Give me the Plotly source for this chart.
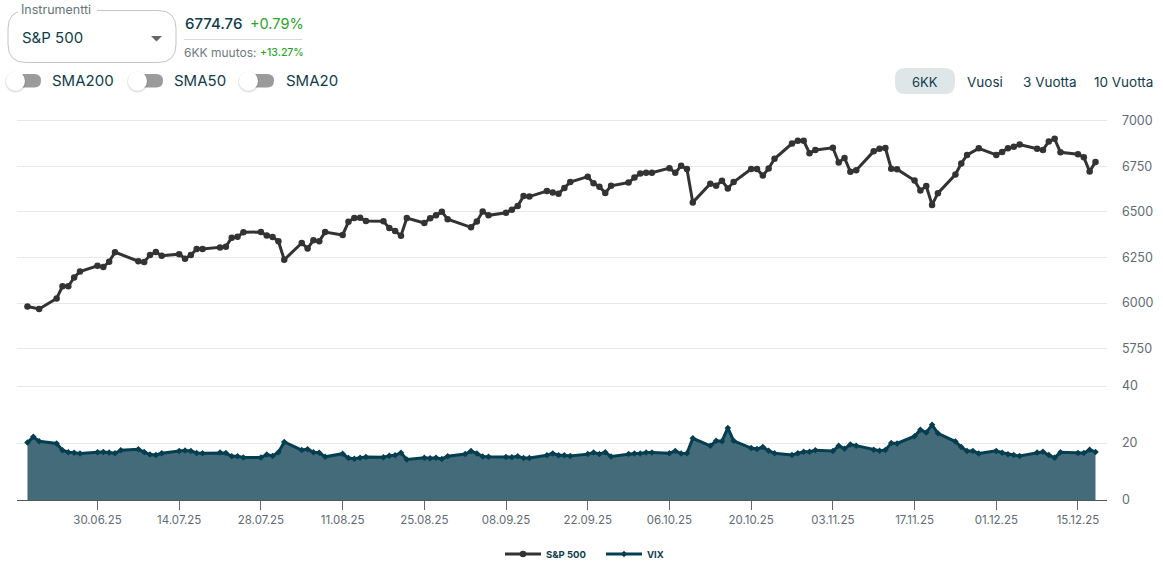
import plotly.graph_objects as go

W, H = 1163, 571

dates = """2025-06-18 2025-06-20 2025-06-23 2025-06-24 2025-06-25 2025-06-26 2025-06-27 2025-06-30 2025-07-01 2025-07-02 2025-07-03
2025-07-07 2025-07-08 2025-07-09 2025-07-10 2025-07-11 2025-07-14 2025-07-15 2025-07-16 2025-07-17 2025-07-18
2025-07-21 2025-07-22 2025-07-23 2025-07-24 2025-07-25 2025-07-28 2025-07-29 2025-07-30 2025-07-31 2025-08-01
2025-08-04 2025-08-05 2025-08-06 2025-08-07 2025-08-08 2025-08-11 2025-08-12 2025-08-13 2025-08-14 2025-08-15
2025-08-18 2025-08-19 2025-08-20 2025-08-21 2025-08-22 2025-08-25 2025-08-26 2025-08-27 2025-08-28 2025-08-29
2025-09-02 2025-09-03 2025-09-04 2025-09-05 2025-09-08 2025-09-09 2025-09-10 2025-09-11 2025-09-12
2025-09-15 2025-09-16 2025-09-17 2025-09-18 2025-09-19 2025-09-22 2025-09-23 2025-09-24 2025-09-25 2025-09-26
2025-09-29 2025-09-30 2025-10-01 2025-10-02 2025-10-03 2025-10-06 2025-10-07 2025-10-08 2025-10-09 2025-10-10
2025-10-13 2025-10-14 2025-10-15 2025-10-16 2025-10-17 2025-10-20 2025-10-21 2025-10-22 2025-10-23 2025-10-24
2025-10-27 2025-10-28 2025-10-29 2025-10-30 2025-10-31 2025-11-03 2025-11-04 2025-11-05 2025-11-06 2025-11-07
2025-11-10 2025-11-11 2025-11-12 2025-11-13 2025-11-14 2025-11-17 2025-11-18 2025-11-19 2025-11-20 2025-11-21
2025-11-24 2025-11-25 2025-11-26 2025-11-28 2025-12-01 2025-12-02 2025-12-03 2025-12-04 2025-12-05
2025-12-08 2025-12-09 2025-12-10 2025-12-11 2025-12-12 2025-12-15 2025-12-16 2025-12-17 2025-12-18""".split()

sp500 = [5980.87, 5967.84, 6025.17, 6092.18, 6092.16, 6141.02, 6173.07, 6204.95, 6198.01, 6227.42, 6279.35,
         6229.98, 6225.52, 6263.26, 6280.46, 6259.75, 6268.56, 6243.76, 6263.70, 6297.36, 6296.79,
         6305.60, 6309.62, 6358.91, 6363.35, 6388.64, 6389.77, 6370.86, 6362.90, 6339.39, 6238.01,
         6329.94, 6299.19, 6345.06, 6340.00, 6389.45, 6373.45, 6445.76, 6466.58, 6468.54, 6449.80,
         6449.15, 6411.37, 6395.78, 6370.17, 6466.91, 6439.32, 6465.94, 6481.40, 6501.86, 6460.26,
         6415.54, 6448.26, 6502.08, 6481.50, 6495.15, 6512.61, 6532.04, 6587.47, 6584.29,
         6615.28, 6606.76, 6600.35, 6631.96, 6664.36, 6693.75, 6656.92, 6637.97, 6604.72, 6643.70,
         6661.21, 6688.46, 6711.20, 6715.35, 6715.79, 6740.28, 6714.59, 6753.72, 6735.11, 6552.51,
         6654.72, 6644.31, 6671.06, 6629.07, 6664.01, 6735.13, 6735.35, 6699.40, 6738.44, 6791.69,
         6875.16, 6890.89, 6890.59, 6822.34, 6840.20, 6851.97, 6771.55, 6796.29, 6720.32, 6728.80,
         6832.43, 6846.61, 6850.92, 6737.49, 6734.11, 6672.41, 6617.32, 6642.16, 6538.76, 6602.99,
         6705.12, 6765.88, 6812.61, 6849.09, 6812.63, 6829.37, 6849.72, 6857.12, 6870.40,
         6846.51, 6840.51, 6886.68, 6901.00, 6827.41, 6816.51, 6800.26, 6721.43, 6774.76]

vix_dates = """2025-06-18 2025-06-19 2025-06-20 2025-06-23 2025-06-24 2025-06-25 2025-06-26 2025-06-27 2025-06-30 2025-07-01 2025-07-02 2025-07-03 2025-07-04
2025-07-07 2025-07-08 2025-07-09 2025-07-10 2025-07-11 2025-07-14 2025-07-15 2025-07-16 2025-07-17 2025-07-18
2025-07-21 2025-07-22 2025-07-23 2025-07-24 2025-07-25 2025-07-28 2025-07-29 2025-07-30 2025-07-31 2025-08-01
2025-08-04 2025-08-05 2025-08-06 2025-08-07 2025-08-08 2025-08-11 2025-08-12 2025-08-13 2025-08-14 2025-08-15
2025-08-18 2025-08-19 2025-08-20 2025-08-21 2025-08-22 2025-08-25 2025-08-26 2025-08-27 2025-08-28 2025-08-29
2025-09-01 2025-09-02 2025-09-03 2025-09-04 2025-09-05 2025-09-08 2025-09-09 2025-09-10 2025-09-11 2025-09-12
2025-09-15 2025-09-16 2025-09-17 2025-09-18 2025-09-19 2025-09-22 2025-09-23 2025-09-24 2025-09-25 2025-09-26
2025-09-29 2025-09-30 2025-10-01 2025-10-02 2025-10-03 2025-10-06 2025-10-07 2025-10-08 2025-10-09 2025-10-10
2025-10-13 2025-10-14 2025-10-15 2025-10-16 2025-10-17 2025-10-20 2025-10-21 2025-10-22 2025-10-23 2025-10-24
2025-10-27 2025-10-28 2025-10-29 2025-10-30 2025-10-31 2025-11-03 2025-11-04 2025-11-05 2025-11-06 2025-11-07
2025-11-10 2025-11-11 2025-11-12 2025-11-13 2025-11-14 2025-11-17 2025-11-18 2025-11-19 2025-11-20 2025-11-21
2025-11-24 2025-11-25 2025-11-26 2025-11-27 2025-11-28 2025-12-01 2025-12-02 2025-12-03 2025-12-04 2025-12-05
2025-12-08 2025-12-09 2025-12-10 2025-12-11 2025-12-12 2025-12-15 2025-12-16 2025-12-17 2025-12-18""".split()

vix = [20.14, 22.17, 20.62, 19.83, 17.48, 16.76, 16.59, 16.32, 16.73, 16.83, 16.64, 16.38, 17.48,
       17.79, 16.81, 15.94, 15.78, 16.40, 17.20, 17.38, 17.16, 16.52, 16.41,
       16.65, 16.50, 15.37, 15.39, 14.93, 14.93, 15.98, 15.48, 16.72, 20.38,
       17.52, 17.85, 16.77, 16.57, 15.15, 16.25, 14.73, 14.49, 14.83, 15.09,
       14.99, 15.57, 15.69, 16.60, 14.22, 14.79, 14.62, 14.85, 14.43, 15.36,
       16.12, 17.17, 16.35, 15.30, 15.18, 15.11, 15.04, 15.35, 14.71, 14.76,
       15.69, 16.36, 15.72, 15.70, 15.45, 16.10, 16.64, 16.18, 16.74, 15.29,
       16.12, 16.28, 16.29, 16.63, 16.65, 16.37, 17.24, 16.30, 16.43, 21.66,
       19.03, 20.81, 20.64, 25.31, 20.78, 18.23, 17.87, 18.60, 17.30, 16.37,
       15.79, 16.42, 16.92, 16.91, 17.44, 17.17, 19.00, 18.01, 19.50, 19.08,
       17.60, 17.28, 17.51, 20.00, 19.83, 22.38, 24.69, 23.66, 26.42, 23.43,
       20.52, 18.56, 17.19, 17.21, 16.35, 17.24, 16.59, 16.08, 15.78, 15.41,
       16.66, 16.93, 15.77, 14.85, 16.74, 16.50, 16.48, 17.62, 16.87]

tick_dates = ["2025-06-30", "2025-07-14", "2025-07-28", "2025-08-11", "2025-08-25", "2025-09-08", "2025-09-22",
              "2025-10-06", "2025-10-20", "2025-11-03", "2025-11-17", "2025-12-01", "2025-12-15"]
tick_labels = ["30.06.25", "14.07.25", "28.07.25", "11.08.25", "25.08.25", "08.09.25", "22.09.25",
               "06.10.25", "20.10.25", "03.11.25", "17.11.25", "01.12.25", "15.12.25"]
sp_ticks = [5750, 6000, 6250, 6500, 6750, 7000]
vix_ticks = [0, 20, 40]

FONT = "Inter"
DARK = "#0f3d4c"
GREY = "#5f6b73"
GREEN = "#2aa52a"


def px(x):
    return x / W


def py(y):
    return 1 - y / H


def rrect(x0, y0, x1, y1, r, fill, line=None, lw=0):
    X0, X1, Y0, Y1 = px(x0), px(x1), py(y0), py(y1)
    rx, ry = r / W, r / H
    path = (f"M {X0 + rx} {Y0} L {X1 - rx} {Y0} Q {X1} {Y0} {X1} {Y0 - ry} L {X1} {Y1 + ry} Q {X1} {Y1} {X1 - rx} {Y1} "
            f"L {X0 + rx} {Y1} Q {X0} {Y1} {X0} {Y1 + ry} L {X0} {Y0 - ry} Q {X0} {Y0} {X0 + rx} {Y0} Z")
    return dict(type="path", xref="paper", yref="paper", path=path, fillcolor=fill,
                line=dict(color=line or "rgba(0,0,0,0)", width=lw))


def circle(cx, cy, r, fill, line=None, lw=0):
    return dict(type="circle", xref="paper", yref="paper", x0=px(cx - r), x1=px(cx + r), y0=py(cy + r), y1=py(cy - r),
                fillcolor=fill, line=dict(color=line or "rgba(0,0,0,0)", width=lw))


def label(x, y, text, size, color=DARK, anchor="left", weight=None):
    return dict(xref="paper", yref="paper", x=px(x), y=py(y), text=text, showarrow=False, xanchor=anchor,
                yanchor="middle", borderpad=0, borderwidth=0,
                font=dict(family=FONT, size=size, color=color, weight=weight))


fig = go.Figure()
fig.add_trace(go.Scatter(x=dates, y=sp500, name="S&P 500", xaxis="x", yaxis="y", mode="lines+markers",
                         line=dict(color="#333333", width=3), marker=dict(color="#333333", size=6.5, symbol="circle")))
fig.add_trace(go.Scatter(x=vix_dates, y=vix, xaxis="x", yaxis="y2", mode="none", fill="tozeroy",
                         fillcolor="#436b79", showlegend=False, hoverinfo="skip"))
fig.add_trace(go.Scatter(x=vix_dates, y=vix, name="VIX", xaxis="x", yaxis="y2", mode="lines+markers",
                         line=dict(color="#053e50", width=3),
                         marker=dict(color="#053e50", size=5, symbol="diamond")))

shapes = [
    rrect(8, 10.5, 176, 62.5, 18, "white", "#c4c4c4", 1),
    dict(type="rect", xref="paper", yref="paper", x0=px(18), x1=px(97), y0=py(13), y1=py(8), fillcolor="white",
         line=dict(width=0)),
    dict(type="path", xref="paper", yref="paper",
         path=f"M {px(151)} {py(36)} L {px(162)} {py(36)} L {px(156.5)} {py(41.5)} Z", fillcolor="#666666",
         line=dict(width=0)),
    dict(type="line", xref="paper", yref="paper", x0=px(184), x1=px(302), y0=py(39.5), y1=py(39.5),
         line=dict(color="#d9d9d9", width=1)),
    rrect(895, 68, 955, 94, 10, "#dfe6e8"),
]
for track_end, knob in [(41, 15.5), (163, 137.5), (274, 248.5)]:
    shapes.append(rrect(knob, 74, track_end, 87.5, 6.7, "#9b9b9b"))
    shapes.append(circle(knob, 82, 10.5, "rgba(0,0,0,0.10)"))
    shapes.append(circle(knob, 81, 9.5, "white"))

annotations = [
    label(21, 9.5, "Instrumentti", 12.5, "#66747c"),
    label(21.5, 37, "S&amp;P 500", 15),
    label(184.5, 24, "6774.76", 15, DARK, weight=500),
    label(249.5, 24, "+0.79%", 14.5, GREEN),
    label(184, 52.5, "6KK muutos:", 12, "#6f7a80"),
    label(259.5, 52.5, "+13.27%", 10.5, GREEN, weight=500),
    label(52, 81, "SMA200", 15),
    label(174, 81, "SMA50", 15),
    label(286, 81, "SMA20", 15),
    label(925, 82, "6KK", 13, DARK, "center"),
    label(985, 81.5, "Vuosi", 13.5, DARK, "center"),
    label(1050, 81.5, "3 Vuotta", 13.5, DARK, "center"),
    label(1123.5, 81.5, "10 Vuotta", 13.5, DARK, "center"),
]

fig.update_layout(
    width=W, height=H, autosize=False, margin=dict(l=0, r=0, t=0, b=0, autoexpand=False), paper_bgcolor="white",
    plot_bgcolor="white",
    font=dict(family=FONT, color=GREY),
    shapes=shapes, annotations=annotations,
    xaxis=dict(domain=[px(17), px(1107)], anchor="y2", type="date", range=["2025-06-16 05:00", "2025-12-19 23:20"],
               tickmode="array", tickvals=tick_dates, ticktext=tick_labels, ticks="outside", ticklen=9, tickwidth=1,
               tickcolor="#666666", showline=True, linecolor="#555555", linewidth=1, showgrid=False,
               tickfont=dict(size=11.5, color=GREY, family=FONT), tickangle=0),
    yaxis=dict(domain=[py(350.5), py(119)], anchor="x", side="right", range=[5740, 7010], tickmode="array",
               tickvals=sp_ticks, ticktext=[str(v) for v in sp_ticks], showgrid=True, gridcolor="#e8e8e8",
               gridwidth=1, zeroline=False, showline=False, ticks="", ticklabelstandoff=14,
               tickfont=dict(size=12.5, color=GREY, family=FONT)),
    yaxis2=dict(domain=[py(500), py(384.6)], anchor="x", side="right", range=[0, 40.5], tickmode="array",
                tickvals=vix_ticks, ticktext=[str(v) for v in vix_ticks], showgrid=True, gridcolor="#e8e8e8",
                gridwidth=1, zeroline=False, showline=False, ticks="", ticklabelstandoff=14,
                tickfont=dict(size=12.5, color=GREY, family=FONT)),
    legend=dict(orientation="h", x=px(500), xanchor="left", y=py(554), yanchor="middle", itemwidth=36, entrywidth=50,
                entrywidthmode="pixels",
                font=dict(family=FONT, size=9.5, color=DARK, weight=700), bgcolor="rgba(0,0,0,0)"),
    hovermode="x",
)

fig.write_html("out.html", config={"displayModeBar": False}, post_script="document.body.style.margin='0';")
